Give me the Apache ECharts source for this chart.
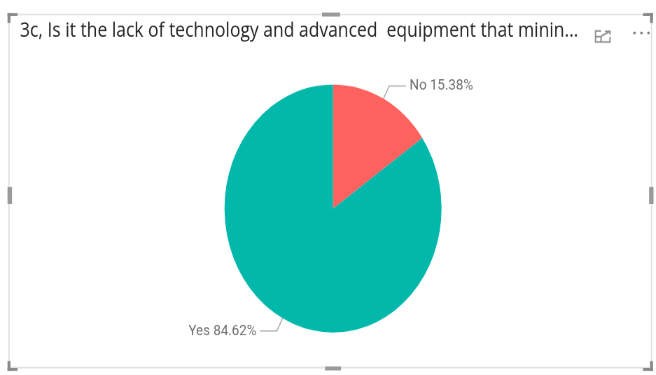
<!DOCTYPE html>
<html>
<head>
<meta charset="utf-8">
<script src="https://cdn.jsdelivr.net/npm/echarts@6/dist/echarts.min.js"></script>
<style>
  html, body { margin: 0; padding: 0; background: #ffffff; overflow: hidden; }
  #wrap { width: 656px; height: 375px; overflow: hidden; position: relative; }
  /* the visual is laid out on a larger canvas and squeezed into the frame */
  #chart { width: 937px; height: 469px; transform: scale(0.7, 0.8); transform-origin: 0 0; }
</style>
</head>
<body>
<div id="wrap"><div id="chart"></div></div>
<script>
// survey answers and their shares (percent)
const categories = ['No', 'Yes'];
const shares = [15.38, 84.62];
const sliceColors = ['#FD625E', '#01B8AA'];
const titleText = '3c, Is it the lack of technology and advanced  equipment that minin...';

const SX = 0.7, SY = 0.8;
const X = v => v / SX;
const Y = v => v / SY;

const chart = echarts.init(document.getElementById('chart'), null, { renderer: 'canvas' });

const frameColor = '#e1e1e1';
const handleColor = '#8a8a8a';
const iconColor = '#8c8c8c';

function bar(x, y, w, h, color) {
  return { type: 'rect', shape: { x: X(x), y: Y(y), width: X(w), height: Y(h) }, style: { fill: color }, silent: true };
}
function stroke(points) {
  return { type: 'polyline', shape: { points: points.map(p => [X(p[0]), Y(p[1])]) },
    style: { stroke: iconColor, lineWidth: 2, fill: null }, silent: true };
}

const graphics = [
  // visual frame
  { type: 'rect', shape: { x: X(9), y: Y(14.5), width: X(642.5), height: Y(353) },
    style: { fill: 'none', stroke: frameColor, lineWidth: 2 }, silent: true },
  // corner handles
  bar(7.5, 13, 10, 3, handleColor), bar(7.5, 13, 3, 10, handleColor),
  bar(643, 13, 10, 3, handleColor), bar(650, 13, 3, 10, handleColor),
  bar(7.5, 368, 10, 3, handleColor), bar(7.5, 361, 3, 10, handleColor),
  bar(643, 368, 10, 3, handleColor), bar(650, 361, 3, 10, handleColor),
  // middle handles
  bar(322, 12.5, 18, 4, '#9a9a9a'), bar(325, 366.5, 16, 4, '#9a9a9a'),
  bar(7.5, 187, 4.5, 17, '#9a9a9a'), bar(649, 187, 4.5, 17, '#9a9a9a'),
  // focus-mode icon
  stroke([[601, 31], [595.5, 31], [595.5, 42], [610, 42], [610, 37]]),
  stroke([[595.5, 36.5], [601, 36.5], [601, 42]]),
  stroke([[601.5, 36], [609.5, 31.5]]),
  stroke([[605, 31.3], [610, 31.3], [610, 34.5]]),
  // more-options dots
  { type: 'circle', shape: { cx: X(634.5), cy: Y(33), r: 1.7 }, style: { fill: '#777' }, silent: true },
  { type: 'circle', shape: { cx: X(641.5), cy: Y(33), r: 1.7 }, style: { fill: '#777' }, silent: true },
  { type: 'circle', shape: { cx: X(648.5), cy: Y(33), r: 1.7 }, style: { fill: '#777' }, silent: true },
  // visual title
  { type: 'text', x: X(20), y: Y(41), silent: true,
    style: { text: titleText, fill: '#252423', font: '400 25px "Open Sans", sans-serif', verticalAlign: 'bottom' } }
];

chart.setOption({
  animation: false,
  graphic: graphics,
  series: [{
    type: 'pie',
    center: [X(333), Y(208.5)],
    radius: 155,
    startAngle: 90,
    clockwise: true,
    avoidLabelOverlap: false,
    label: {
      show: true,
      position: 'outside',
      color: '#6f6f6f',
      fontFamily: 'Roboto, sans-serif',
      fontSize: 19,
      formatter: p => p.name + ' ' + p.value.toFixed(2) + '%'
    },
    labelLine: { show: true, length: 18, length2: 24, smooth: false, lineStyle: { color: '#a8a8a8', width: 1.5 } },
    emphasis: { disabled: true },
    data: categories.map((name, i) => ({ name, value: shares[i], itemStyle: { color: sliceColors[i] } }))
  }]
});
</script>
</body>
</html>
